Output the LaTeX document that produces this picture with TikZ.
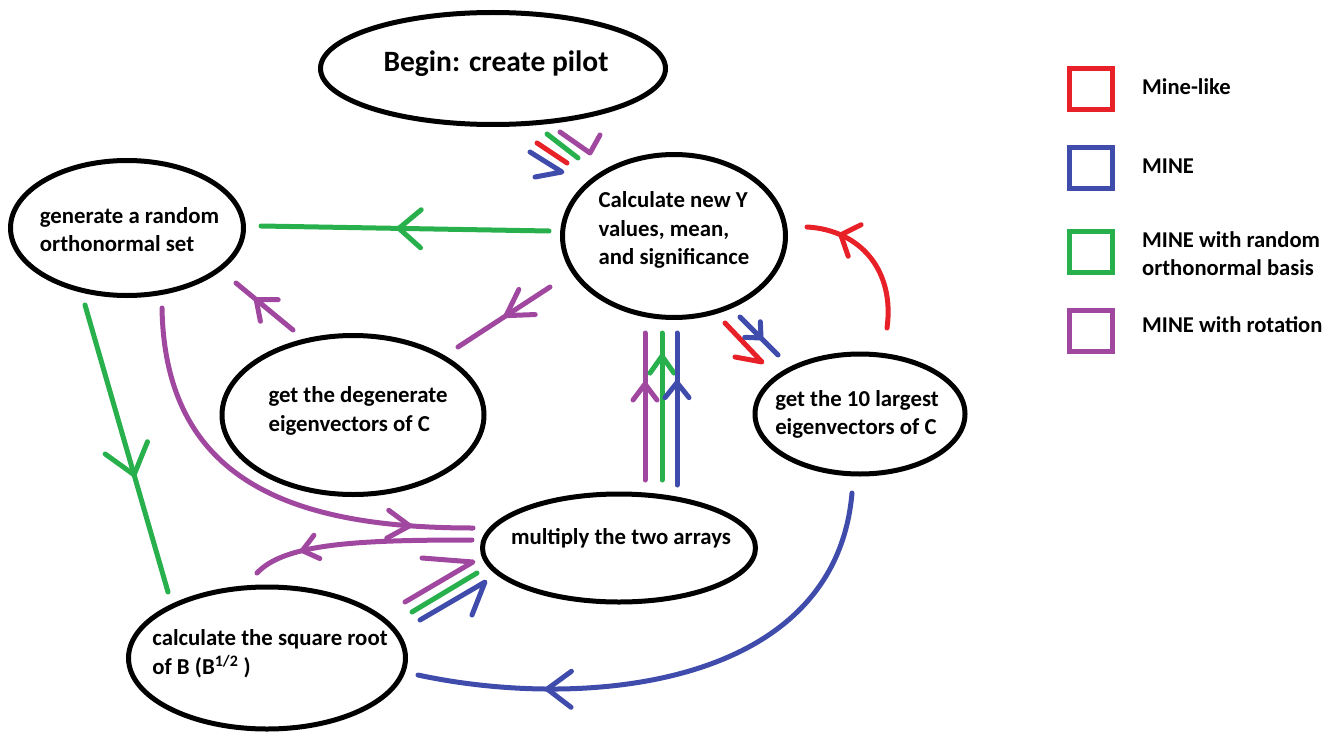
\documentclass[tikz,border=0pt]{standalone}
\usepackage{fontspec}
\setmainfont{Carlito}
\usetikzlibrary{shapes.geometric,arrows.meta,decorations.markings}
\definecolor{pred}{RGB}{232,32,40}
\definecolor{pblue}{RGB}{64,76,172}
\definecolor{pgreen}{RGB}{40,176,76}
\definecolor{ppurple}{RGB}{160,72,160}
\newcommand{\etext}[3]{\raisebox{#1}[0pt][0pt]{\makebox[0pt]{\hspace*{#2}\begin{tabular}{@{}l@{}}#3\end{tabular}}}}
\newcommand{\ltext}[1]{\begin{tabular}[t]{@{}l@{}}#1\end{tabular}}
\begin{document}
\begin{tikzpicture}[x=1pt,y=-1pt,
  bubble/.style={ellipse, draw=black, line width=5pt, inner sep=0pt, font=\bfseries\fontsize{22.8}{28.5}\selectfont},
  conn/.style={line width=5pt, line cap=round, line join=round},
  vmark/.style n args={3}{postaction={decorate}, decoration={markings, mark=at position #1 with {\arrow{Straight Barb[length=#2pt,width=#3pt,round,line width=5pt]}}}},
  keybox/.style={draw=#1, line width=5pt, minimum width=43pt, minimum height=41pt, inner sep=0pt},
  keytext/.style={anchor=base west, inner sep=0pt, font=\bfseries\fontsize{22.6}{28}\selectfont}
]
\useasboundingbox (0,0) rectangle (1335,733);

% ellipses
\node[bubble, minimum width=345pt, minimum height=112pt, font=\bfseries\fontsize{29.5}{32}\selectfont] (begin) at (493,68.5) {\etext{-2.5pt}{6pt}{Begin: create pilot}};
\node[bubble, minimum width=233pt, minimum height=135pt] (gen) at (127,228) {\etext{-9pt}{5pt}{generate a random\\orthonormal set}};
\node[bubble, minimum width=223pt, minimum height=163pt] (calc) at (674,236) {\etext{0.5pt}{0pt}{Calculate new Y\\values, mean,\\and significance}};
\node[bubble, minimum width=262pt, minimum height=159pt] (degen) at (353,415) {\etext{-1.5pt}{10pt}{get the degenerate\\eigenvectors of C}};
\node[bubble, minimum width=210pt, minimum height=120pt] (large) at (860,414) {\etext{-6pt}{-6pt}{get the 10 largest\\eigenvectors of C}};
\node[bubble, minimum width=273pt, minimum height=108pt] (mult) at (619,548) {\etext{4pt}{4pt}{multiply the two arrays}};
\node[bubble, minimum width=277pt, minimum height=142pt] (sqrt) at (267,658) {\etext{-1.5pt}{6pt}{calculate the square root\\of B (B\textsuperscript{1/2} )}};

% Begin -> Calculate (bundle)
\coordinate (bA1) at (530,152); \coordinate (cA1) at (562,172);
\coordinate (bA2) at (537,143); \coordinate (cA2) at (567,163);
\coordinate (bA3) at (547,134); \coordinate (cA3) at (578,158);
\coordinate (bA4) at (560,132); \coordinate (cA4) at (590,153);
\draw[conn, pblue] (bA1) -- (cA1) -- ++(-27,5);
\draw[conn, pred] (bA2) -- (cA2);
\draw[conn, pgreen] (bA3) -- (cA3);
\draw[conn, ppurple] (bA4) -- (cA4) -- ++(10,-18);

% Calculate -> generate (green)
\coordinate (cB) at (549,231); \coordinate (gB) at (261,226);
\draw[conn, pgreen, vmark={0.53}{22}{38}] (cB) -- (gB);

% Calculate -> degenerate (purple)
\coordinate (cC) at (550,287); \coordinate (dC) at (458,347);
\draw[conn, ppurple, vmark={0.5}{25}{30}] (cC) -- (dC);

% degenerate -> generate (purple)
\coordinate (dD) at (293,330); \coordinate (gD) at (236,283);
\draw[conn, ppurple, vmark={0.68}{17}{28}] (dD) -- (gD);

% generate -> square root (green)
\coordinate (gE) at (85,305); \coordinate (sE) at (168,592);
\draw[conn, pgreen, vmark={0.6}{28}{44}] (gE) -- (sE);

% generate -> multiply (purple)
\coordinate (gF) at (162,308); \coordinate (mF) at (473,528);
\draw[conn, ppurple, vmark={0.86}{22}{28}] (gF) .. controls (165,480) and (290,528) .. (mF);

% multiply -> square root (purple)
\coordinate (mG) at (472,540); \coordinate (sG) at (257,573);
\draw[conn, ppurple, vmark={0.78}{15}{24}] (mG) .. controls (360,540) and (285,543) .. (sG);

% square root -> multiply (bundle)
\coordinate (sH1) at (405,602); \coordinate (mH1) at (473,562);
\coordinate (sH2) at (412,612); \coordinate (mH2) at (477,573);
\coordinate (sH3) at (420,620); \coordinate (mH3) at (485,582);
\draw[conn, ppurple] (sH1) -- (mH1) -- ++(-51,-4);
\draw[conn, pgreen] (sH2) -- (mH2);
\draw[conn, pblue] (sH3) -- (mH3) -- ++(-13,33);

% multiply -> Calculate (bundle)
\coordinate (mI1) at (645,480); \coordinate (cI1) at (645,333);
\coordinate (mI2) at (662,480); \coordinate (cI2) at (662,333);
\coordinate (mI3) at (677,485); \coordinate (cI3) at (677,333);
\draw[conn, ppurple, vmark={0.67}{16}{24}] (mI1) -- (cI1);
\draw[conn, pgreen, vmark={0.86}{17}{24}] (mI2) -- (cI2);
\draw[conn, pblue, vmark={0.69}{15}{24}] (mI3) -- (cI3);

% Calculate -> 10 largest
\coordinate (cJ1) at (725,323); \coordinate (lJ1) at (762,362);
\coordinate (cJ2) at (740,317); \coordinate (lJ2) at (778,355);
\draw[conn, pred] (cJ1) -- (lJ1) -- ++(-27,-5);
\draw[conn, pblue, vmark={0.6}{12}{22}] (cJ2) -- (lJ2);

% 10 largest -> Calculate (red)
\coordinate (lK) at (887,328); \coordinate (cK) at (807,227);
\draw[conn, pred, vmark={0.78}{15}{34}] (lK) .. controls (895,270) and (860,230) .. (cK);

% 10 largest -> square root (blue)
\coordinate (lL) at (852,493); \coordinate (sL) at (418,675);
\draw[conn, pblue, vmark={0.76}{24}{36}] (lL) .. controls (835,690) and (580,710) .. (sL);

% legend
\node[keybox=pred] (kred) at (1091,89) {};
\node[keybox=pblue] (kblue) at (1091,167.5) {};
\node[keybox=pgreen] (kgreen) at (1091,252) {};
\node[keybox=ppurple] (kpurple) at (1091,330.5) {};
\node[keytext] (tred) at (1142,95) {\ltext{Mine-like}};
\node[keytext] (tblue) at (1142,173) {\ltext{MINE}};
\node[keytext] (tgreen) at (1142,247) {\ltext{MINE with random\\orthonormal basis}};
\node[keytext] (tpurple) at (1142,332) {\ltext{MINE with rotation}};
\end{tikzpicture}
\end{document}
